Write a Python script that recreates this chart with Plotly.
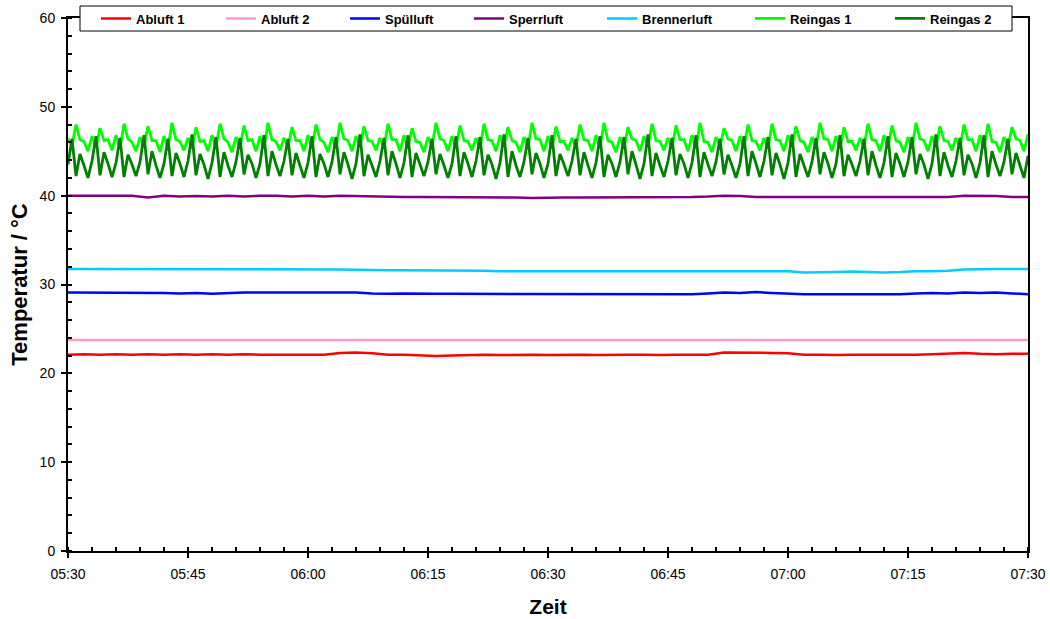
import pandas as pd
import plotly.graph_objects as go

# ---------------- data ----------------
series_names = ["Abluft 1", "Abluft 2", "Spülluft", "Sperrluft", "Brennerluft", "Reingas 1", "Reingas 2"]
series_colors = ["#FF0000", "#FF99CC", "#0000FF", "#800080", "#00CCFF", "#00FF00", "#008000"]

t_start = "2024-01-01 05:30"
t_end = "2024-01-01 07:30"
time_slow = pd.date_range(t_start, t_end, freq="2min")   # 61 samples
time_fast = pd.date_range(t_start, t_end, freq="30s")    # 241 samples

abluft1 = [22.1, 22.15, 22.1, 22.15, 22.1, 22.15, 22.1, 22.15, 22.1, 22.15,
           22.1, 22.15, 22.1, 22.1, 22.05, 22.05, 22.1, 22.3, 22.35, 22.25,
           22.1, 22.1, 22.05, 21.95, 22.0, 22.05, 22.1, 22.05, 22.1, 22.1,
           22.05, 22.1, 22.1, 22.05, 22.1, 22.1, 22.1, 22.05, 22.1, 22.1,
           22.1, 22.35, 22.35, 22.3, 22.3, 22.25, 22.1, 22.1, 22.05, 22.1,
           22.1, 22.05, 22.1, 22.1, 22.15, 22.25, 22.3, 22.2, 22.15, 22.2, 22.2]
abluft2 = [23.75, 23.75, 23.75, 23.75, 23.75, 23.75, 23.75, 23.75, 23.75, 23.75,
           23.75, 23.75, 23.75, 23.75, 23.75, 23.75, 23.75, 23.75, 23.75, 23.75,
           23.75, 23.75, 23.75, 23.75, 23.75, 23.75, 23.75, 23.75, 23.75, 23.75,
           23.75, 23.7, 23.75, 23.75, 23.75, 23.75, 23.75, 23.75, 23.75, 23.75,
           23.75, 23.7, 23.75, 23.75, 23.75, 23.75, 23.75, 23.75, 23.75, 23.75,
           23.75, 23.75, 23.75, 23.75, 23.75, 23.75, 23.75, 23.75, 23.75, 23.75, 23.75]
spuelluft = [29.1, 29.1, 29.1, 29.1, 29.1, 29.1, 29.05, 29.0, 29.05, 28.95,
             29.05, 29.1, 29.1, 29.1, 29.1, 29.1, 29.1, 29.1, 29.1, 29.0,
             28.95, 29.0, 28.95, 28.95, 28.95, 28.95, 28.9, 28.95, 28.9, 28.9,
             28.9, 28.95, 28.9, 28.9, 28.95, 28.9, 28.9, 28.9, 28.9, 28.9,
             29.0, 29.1, 29.05, 29.15, 29.05, 28.95, 28.9, 28.9, 28.9, 28.9,
             28.9, 28.9, 28.9, 29.0, 29.05, 29.0, 29.1, 29.05, 29.1, 29.0, 28.9]
sperrluft = [40.0, 40.0, 40.0, 40.0, 40.0, 39.8, 40.0, 39.9, 39.95, 39.9,
             40.0, 39.9, 40.0, 40.0, 39.9, 40.0, 39.9, 40.0, 39.95, 39.9,
             39.9, 39.85, 39.85, 39.85, 39.8, 39.85, 39.85, 39.8, 39.8, 39.75,
             39.8, 39.8, 39.8, 39.8, 39.8, 39.8, 39.85, 39.8, 39.8, 39.85,
             39.9, 40.0, 39.95, 39.85, 39.85, 39.85, 39.8, 39.85, 39.85, 39.8,
             39.8, 39.8, 39.8, 39.8, 39.85, 39.85, 40.0, 40.0, 39.95, 39.85, 39.85]
brennerluft = [31.75, 31.75, 31.75, 31.75, 31.75, 31.75, 31.75, 31.75, 31.75, 31.75,
               31.75, 31.7, 31.7, 31.75, 31.7, 31.75, 31.7, 31.7, 31.65, 31.6,
               31.6, 31.6, 31.6, 31.6, 31.6, 31.55, 31.55, 31.5, 31.5, 31.5,
               31.5, 31.55, 31.5, 31.5, 31.5, 31.5, 31.5, 31.5, 31.5, 31.5,
               31.5, 31.5, 31.5, 31.5, 31.5, 31.5, 31.35, 31.35, 31.4, 31.45,
               31.4, 31.35, 31.4, 31.5, 31.5, 31.55, 31.7, 31.75, 31.75, 31.75, 31.75]

reingas1_cycles = [
    [46.4, 45.6, 48.0, 46.3, 46.1, 45.0], [46.7, 45.4, 47.6, 46.2, 46.3, 45.1],
    [46.8, 45.3, 48.1, 46.4, 46.0, 45.0], [46.6, 45.5, 47.8, 46.2, 46.2, 44.9],
    [46.7, 45.4, 48.2, 46.3, 46.1, 45.1], [46.5, 45.3, 47.7, 46.1, 46.2, 45.0],
    [46.8, 45.5, 48.1, 46.4, 46.0, 44.9], [46.6, 45.4, 47.9, 46.2, 46.3, 45.0],
    [46.7, 45.3, 48.2, 46.3, 46.1, 45.1], [46.5, 45.5, 47.7, 46.2, 46.2, 45.0],
    [46.8, 45.4, 48.0, 46.3, 46.0, 44.9], [46.6, 45.3, 48.2, 46.4, 46.2, 45.0],
    [46.7, 45.5, 47.8, 46.2, 46.1, 45.1], [46.5, 45.4, 48.1, 46.3, 46.3, 45.0],
    [46.8, 45.3, 47.6, 46.1, 46.0, 44.9], [46.6, 45.5, 48.2, 46.4, 46.2, 45.0],
    [46.7, 45.4, 47.9, 46.2, 46.1, 45.1], [46.5, 45.3, 48.1, 46.3, 46.2, 45.0],
    [46.8, 45.5, 47.7, 46.2, 46.0, 44.9], [46.6, 45.4, 48.2, 46.4, 46.3, 45.0],
    [46.7, 45.3, 47.8, 46.1, 46.1, 45.1], [46.5, 45.5, 48.0, 46.3, 46.2, 45.0],
    [46.8, 45.4, 48.2, 46.2, 46.0, 44.9], [46.6, 45.3, 47.7, 46.4, 46.2, 45.0],
    [46.7, 45.5, 48.1, 46.2, 46.1, 45.1], [46.5, 45.4, 47.9, 46.3, 46.3, 45.0],
    [46.8, 45.3, 48.2, 46.1, 46.0, 44.9], [46.6, 45.5, 47.6, 46.4, 46.2, 45.0],
    [46.7, 45.4, 48.0, 46.2, 46.1, 45.1], [46.5, 45.3, 48.1, 46.3, 46.2, 45.0],
    [46.8, 45.5, 47.8, 46.2, 46.0, 44.9], [46.6, 45.4, 48.2, 46.4, 46.3, 45.0],
    [46.7, 45.3, 47.7, 46.1, 46.1, 45.1], [46.5, 45.5, 48.1, 46.3, 46.2, 45.0],
    [46.8, 45.4, 47.9, 46.2, 46.0, 44.9], [46.6, 45.3, 48.2, 46.4, 46.2, 45.0],
    [46.7, 45.5, 47.8, 46.2, 46.1, 45.1], [46.5, 45.4, 48.0, 46.3, 46.3, 45.0],
    [46.8, 45.3, 48.1, 46.1, 46.0, 44.9], [46.6, 45.5, 47.7, 46.4, 46.2, 45.0],
]
reingas1_last = 46.9

reingas2_cycles = [
    [43.5, 46.4, 42.2, 44.7, 43.4, 42.0], [43.9, 46.7, 42.3, 44.9, 43.6, 42.1],
    [43.7, 46.5, 42.1, 44.6, 43.5, 42.2], [43.8, 46.8, 42.4, 45.0, 43.4, 42.0],
    [43.6, 46.4, 42.2, 44.8, 43.6, 42.1], [43.9, 46.9, 42.3, 44.7, 43.5, 41.9],
    [43.7, 46.6, 42.1, 44.9, 43.4, 42.1], [43.8, 46.5, 42.4, 44.6, 43.6, 42.0],
    [43.6, 46.8, 42.2, 45.0, 43.5, 42.2], [43.9, 46.4, 42.3, 44.8, 43.4, 42.0],
    [43.7, 46.7, 42.1, 44.7, 43.6, 42.1], [43.8, 46.6, 42.4, 44.9, 43.5, 41.9],
    [43.6, 46.9, 42.2, 44.6, 43.4, 42.1], [43.9, 46.5, 42.3, 45.0, 43.6, 42.0],
    [43.7, 46.8, 42.1, 44.8, 43.5, 42.2], [43.8, 46.4, 42.4, 44.7, 43.4, 42.0],
    [43.6, 46.7, 42.2, 44.9, 43.6, 42.1], [43.9, 46.6, 42.3, 44.6, 43.5, 41.9],
    [43.7, 46.9, 42.1, 45.0, 43.4, 42.1], [43.8, 46.5, 42.4, 44.8, 43.6, 42.0],
    [43.6, 46.8, 42.2, 44.7, 43.5, 42.2], [43.9, 46.4, 42.3, 44.9, 43.4, 42.0],
    [43.7, 46.7, 42.1, 44.6, 43.6, 42.1], [43.8, 46.6, 42.4, 45.0, 43.5, 41.9],
    [43.6, 46.9, 42.2, 44.8, 43.4, 42.1], [43.9, 46.5, 42.3, 44.7, 43.6, 42.0],
    [43.7, 46.8, 42.1, 44.9, 43.5, 42.2], [43.8, 46.4, 42.4, 44.6, 43.4, 42.0],
    [43.6, 46.7, 42.2, 45.0, 43.6, 42.1], [43.9, 46.6, 42.3, 44.8, 43.5, 41.9],
    [43.7, 46.9, 42.1, 44.7, 43.4, 42.1], [43.8, 46.5, 42.4, 44.9, 43.6, 42.0],
    [43.6, 46.8, 42.2, 44.6, 43.5, 42.2], [43.9, 46.4, 42.3, 45.0, 43.4, 42.0],
    [43.7, 46.7, 42.1, 44.8, 43.6, 42.1], [43.8, 46.6, 42.4, 44.7, 43.5, 41.9],
    [43.6, 46.9, 42.2, 44.9, 43.4, 42.1], [43.9, 46.5, 42.3, 44.6, 43.6, 42.0],
    [43.7, 46.8, 42.1, 45.0, 43.5, 42.2], [43.8, 46.4, 42.4, 44.8, 43.4, 42.0],
]
reingas2_last = 44.5

reingas1 = [v for row in reingas1_cycles for v in row] + [reingas1_last]
reingas2 = [v for row in reingas2_cycles for v in row] + [reingas2_last]

series_x = [time_slow, time_slow, time_slow, time_slow, time_slow, time_fast, time_fast]
series_y = [abluft1, abluft2, spuelluft, sperrluft, brennerluft, reingas1, reingas2]
series_width = [2.5, 2.5, 2.5, 2.5, 2.5, 2.8, 2.8]

# ---------------- figure ----------------
FONT = "Arial, Liberation Sans, sans-serif"
W, H = 1050, 619
ML, MR, MT, MB = 68, 22, 18, 68
PW, PH = W - ML - MR, H - MT - MB

def px_to_paper_x(px):
    return (px - ML) / PW

def px_to_paper_y(py):
    return (H - MB - py) / PH

fig = go.Figure()
for i, (name, color, xs, ys, lw) in enumerate(zip(series_names, series_colors, series_x, series_y, series_width)):
    fig.add_trace(go.Scatter(
        x=xs, y=ys, mode="lines", name=name,
        line=dict(color=color, width=lw),
        legend="legend" if i == 0 else f"legend{i + 1}",
    ))

# legend entries placed individually inside a framed box
legend_line_starts = [99, 224, 348, 472, 605, 753, 893]
legend_cfg = {}
for i, lx in enumerate(legend_line_starts):
    key = "legend" if i == 0 else f"legend{i + 1}"
    legend_cfg[key] = dict(
        xref="container", yref="container",
        x=(lx - 3) / W, xanchor="left",
        y=1 - 18.5 / H, yanchor="middle",
        orientation="h", bgcolor="rgba(0,0,0,0)", borderwidth=0,
        font=dict(family=FONT, size=13, color="black", weight="bold"),
        itemwidth=30, tracegroupgap=0,
    )

fig.update_layout(
    width=W, height=H,
    margin=dict(l=ML, r=MR, t=MT, b=MB, pad=0, autoexpand=False),
    paper_bgcolor="white", plot_bgcolor="white",
    font=dict(family=FONT, size=14, color="black"),
    showlegend=True,
    **legend_cfg,
    shapes=[dict(
        type="rect", xref="paper", yref="paper", layer="above",
        x0=px_to_paper_x(80), x1=px_to_paper_x(1012),
        y0=px_to_paper_y(31), y1=px_to_paper_y(6),
        line=dict(color="black", width=1), fillcolor="white",
    )],
)

fig.update_xaxes(
    type="date", range=[t_start, t_end], automargin=False,
    tickformat="%H:%M", tick0=t_start, dtick=15 * 60 * 1000,
    ticks="outside", ticklen=5, tickwidth=2, tickcolor="black",
    ticklabelstandoff=4,
    showline=True, linewidth=2, linecolor="black", mirror=True,
    showgrid=False, zeroline=False,
    minor=dict(dtick=3 * 60 * 1000, ticks="inside", ticklen=4, tickwidth=1.5,
               tickcolor="black", showgrid=False),
    tickfont=dict(family=FONT, size=14, color="black"),
    title=dict(text="Zeit", font=dict(family=FONT, size=21, color="black", weight="bold"),
               standoff=19),
)
fig.update_yaxes(
    range=[0, 60], tick0=0, dtick=10, automargin=False,
    ticks="outside", ticklen=5, tickwidth=2, tickcolor="black",
    ticklabelstandoff=3,
    showline=True, linewidth=2, linecolor="black", mirror=True,
    showgrid=False, zeroline=False,
    minor=dict(dtick=2, ticks="inside", ticklen=4, tickwidth=1.5,
               tickcolor="black", showgrid=False),
    tickfont=dict(family=FONT, size=14, color="black"),
    title=dict(text="Temperatur / °C", font=dict(family=FONT, size=22, color="black", weight="bold"),
               standoff=6),
)

fig.write_html("out.html")
